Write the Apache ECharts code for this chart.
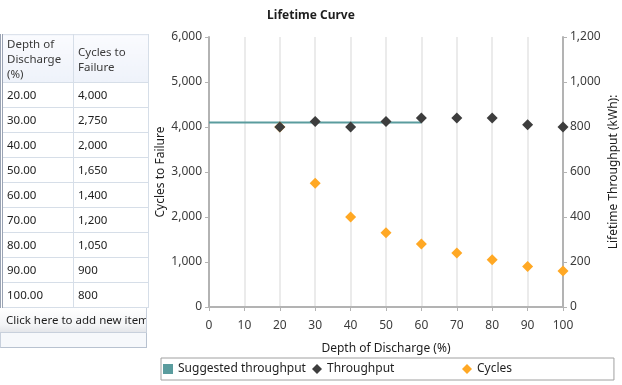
<!DOCTYPE html>
<html>
<head>
<meta charset="utf-8">
<script src="https://cdn.jsdelivr.net/npm/echarts@6/dist/echarts.min.js"></script>
<style>
  html, body { margin: 0; padding: 0; background: #fff; width: 622px; height: 385px; overflow: hidden; font-family: "Noto Sans", "Open Sans", sans-serif; }
  #chart { position: absolute; left: 0; top: 0; width: 622px; height: 385px; }
  #tbl { position: absolute; left: 0; top: 34px; width: 147px; z-index: 2; }
  #tbl table { border-collapse: collapse; width: 147px; font-size: 11.5px; color: #1e1e1e; table-layout: fixed; }
  #tbl td { height: 24px; padding: 0 0 0 4px; border-bottom: 1px solid #d6dee8; border-right: 1px solid #d6dee8; white-space: nowrap; overflow: hidden; line-height: 14px; }
  #tbl th { height: 47px; padding: 0 0 0 4px; text-align: left; font-weight: normal; color: #3a3a3a; background: linear-gradient(#fafbfe, #eef2fa); border-bottom: 1px solid #d6dee8; border-right: 1px solid #d6dee8; border-top: 1px solid #dde3ec; line-height: 15px; vertical-align: middle; }
  #tbl .c1 { border-left: 3px double #9aa3b3; }
  #add { height: 24px; line-height: 24px; padding-left: 6px; font-size: 11.5px; color: #1e1e1e; white-space: nowrap; overflow: hidden; background: linear-gradient(#ffffff, #f3f4f6 70%, #e4e6ea); border-bottom: 1px solid #c8d0dc; border-right: 1px solid #c8d0dc; }
  #foot { height: 14px; background: #f6f8fb; border-bottom: 1px solid #b8c2d0; border-right: 1px solid #b8c2d0; border-left: 1px solid #c8d0dc; }
</style>
</head>
<body>
<div id="chart"></div>
<div id="tbl"></div>
<script>
// ---- data ----
const depthOfDischarge = [20, 30, 40, 50, 60, 70, 80, 90, 100];
const cyclesToFailure = [4000, 2750, 2000, 1650, 1400, 1200, 1050, 900, 800];
const throughputKWh = [800, 825, 800, 825, 840, 840, 840, 810, 800];
const suggestedX = [0, 60];
const suggestedY = [820, 820];
const seriesNames = ['Suggested throughput', 'Throughput', 'Cycles'];
const addRowText = "Click here to add new item";

// ---- table ----
(function () {
  let h = '<table><colgroup><col style="width:72px"><col style="width:75px"></colgroup>';
  h += '<tr><th class="c1">Depth of<br>Discharge<br>(%)</th><th>Cycles to<br>Failure</th></tr>';
  depthOfDischarge.forEach((d, i) => {
    h += '<tr><td class="c1">' + d.toFixed(2) + '</td><td>' + cyclesToFailure[i].toLocaleString('en-US') + '</td></tr>';
  });
  h += '</table><div id="add">' + addRowText + '</div><div id="foot"></div>';
  document.getElementById('tbl').innerHTML = h;
})();

// ---- chart ----
const chart = echarts.init(document.getElementById('chart'), null, { renderer: 'canvas' });
const fmt = v => v.toLocaleString('en-US');
const axisColor = '#b3b3b3';
const labelColor = '#3c3c3c';
const font = '"Noto Sans", "Open Sans", sans-serif';
const legendBase = {
  top: 358, orient: 'horizontal',
  itemWidth: 10, itemHeight: 10,
  textStyle: { fontSize: 12, color: '#1e1e1e', fontFamily: font }
};

chart.setOption({
  animation: false,
  textStyle: { fontFamily: font },
  title: {
    text: 'Lifetime Curve', left: 'center', top: 5,
    textStyle: { fontSize: 12, fontWeight: 'bold', color: '#1e1e1e', fontFamily: font }
  },
  grid: { left: 209, right: 59, top: 37, bottom: 78, containLabel: false, outerBoundsMode: 'none' },
  legend: [
    Object.assign({}, legendBase, {
      left: 161, padding: [5, 308, 5, 2],
      borderColor: '#a0a0a0', borderWidth: 1,
      data: [{ name: seriesNames[0], icon: 'rect' }]
    }),
    Object.assign({}, legendBase, {
      left: 310, padding: [5, 2, 5, 2],
      data: [{ name: seriesNames[1], icon: 'diamond' }]
    }),
    Object.assign({}, legendBase, {
      left: 460, padding: [5, 2, 5, 2],
      data: [{ name: seriesNames[2], icon: 'diamond' }]
    })
  ],
  xAxis: {
    type: 'value', min: 0, max: 100, interval: 10,
    name: 'Depth of Discharge (%)', nameLocation: 'middle', nameGap: 36,
    nameTextStyle: { fontSize: 12, color: '#1e1e1e' },
    axisLine: { show: true, lineStyle: { color: axisColor, width: 2 } },
    axisTick: { show: true, length: 4, lineStyle: { color: axisColor, width: 1 } },
    axisLabel: { fontSize: 12, color: labelColor, margin: 13 },
    splitLine: { show: true, lineStyle: { color: '#ebebeb', width: 2 } }
  },
  yAxis: [
    {
      type: 'value', min: 0, max: 6000, interval: 1000, position: 'left',
      name: 'Cycles to Failure', nameLocation: 'middle', nameGap: 42, nameRotate: 90,
      nameMoveOverlap: false,
      nameTextStyle: { fontSize: 12, color: '#1e1e1e' },
      axisLine: { show: true, lineStyle: { color: axisColor, width: 2 } },
      axisTick: { show: true, length: 4, lineStyle: { color: axisColor, width: 1 } },
      axisLabel: { fontSize: 12, color: labelColor, margin: 7, formatter: fmt },
      splitLine: { show: false }
    },
    {
      type: 'value', min: 0, max: 1200, interval: 200, position: 'right',
      name: 'Lifetime Throughput (kWh):', nameLocation: 'middle', nameGap: 45, nameRotate: 90,
      nameMoveOverlap: false,
      nameTextStyle: { fontSize: 12, color: '#1e1e1e' },
      axisLine: { show: true, lineStyle: { color: axisColor, width: 2 } },
      axisTick: { show: true, length: 4, lineStyle: { color: axisColor, width: 1 } },
      axisLabel: { fontSize: 12, color: labelColor, margin: 7, formatter: fmt },
      splitLine: { show: false }
    }
  ],
  series: [
    {
      name: seriesNames[0], type: 'line', yAxisIndex: 1,
      data: suggestedX.map((x, i) => [x, suggestedY[i]]),
      showSymbol: false, symbol: 'none',
      lineStyle: { color: '#5a9c9e', width: 2 },
      itemStyle: { color: '#5a9c9e' },
      z: 2
    },
    {
      name: seriesNames[2], type: 'scatter', yAxisIndex: 0,
      data: depthOfDischarge.map((x, i) => [x, cyclesToFailure[i]]),
      symbol: 'diamond', symbolSize: 11,
      itemStyle: { color: '#ffa824', opacity: 1 },
      z: 3
    },
    {
      name: seriesNames[1], type: 'scatter', yAxisIndex: 1,
      data: depthOfDischarge.map((x, i) => [x, throughputKWh[i]]),
      symbol: 'diamond', symbolSize: 11,
      itemStyle: { color: '#3d3d3d', opacity: 1 },
      z: 4
    }
  ]
});
</script>
</body>
</html>
